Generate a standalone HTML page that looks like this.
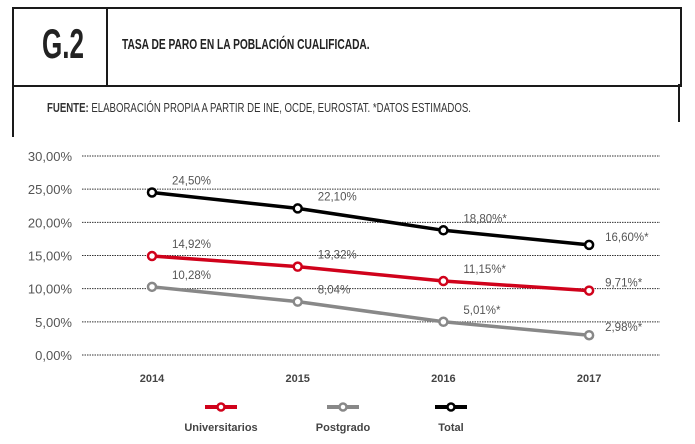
<!DOCTYPE html>
<html><head><meta charset="utf-8"><style>
body{margin:0;width:695px;height:444px;background:#fff;overflow:hidden;font-family:"Liberation Sans Narrow","Liberation Sans",sans-serif;}
.hdr{position:absolute;}
</style></head><body>
<div class="hdr" style="left:12px;top:7px;width:666px;height:76px;border:2px solid #1a1a1a;"></div>
<div class="hdr" style="left:106px;top:7px;width:2px;height:78px;background:#1a1a1a;"></div>
<div class="hdr" style="left:12px;top:84px;width:2px;height:53px;background:#1a1a1a;"></div>
<div class="hdr" style="left:678px;top:84px;width:2px;height:38px;background:#1a1a1a;"></div>
<div class="hdr" style="left:42px;top:20px;font-size:42px;font-weight:bold;color:#222;transform:scaleX(0.62);transform-origin:left;">G.2</div>
<div class="hdr" style="left:122px;top:36px;font-size:15px;font-weight:bold;color:#222;transform:scaleX(0.68);transform-origin:left;white-space:nowrap;">TASA DE PARO EN LA POBLACIÓN CUALIFICADA.</div>
<div class="hdr" style="left:47px;top:100px;font-size:13px;color:#333;transform:scaleX(0.74);transform-origin:left;white-space:nowrap;"><b>FUENTE:</b> ELABORACIÓN PROPIA A PARTIR DE INE, OCDE, EUROSTAT. *DATOS ESTIMADOS.</div>
<svg id="chart" width="695" height="444" style="position:absolute;left:0;top:0"></svg>
<script>
const years=["2014","2015","2016","2017"];
const yTicks=[0,5,10,15,20,25,30];
const yTickLabels=["0,00%","5,00%","10,00%","15,00%","20,00%","25,00%","30,00%"];
const universitarios=[14.92,13.32,11.15,9.71];
const postgrado=[10.28,8.04,5.01,2.98];
const total=[24.5,22.1,18.8,16.6];
const uniLabels=["14,92%","13,32%","11,15%*","9,71%*"];
const postLabels=["10,28%","8,04%","5,01%*","2,98%*"];
const totLabels=["24,50%","22,10%","18,80%*","16,60%*"];
const NS="http://www.w3.org/2000/svg";
const svg=document.getElementById('chart');
const x=i=>152+i*145.7;
const y=v=>355-v*6.633;
function mk(t,a,txt){const e=document.createElementNS(NS,t);for(const k in a)e.setAttribute(k,a[k]);if(txt!==undefined)e.textContent=txt;svg.appendChild(e);return e;}
yTicks.forEach((v,i)=>{
 const g=mk('line',{x1:82,x2:660,y1:y(v),y2:y(v),stroke:'#333','stroke-width':1,'stroke-dasharray':'1.5,1'});
 
 
 const t=mk('text',{x:72,y:y(v)+5,'text-anchor':'end','font-size':13,fill:'#555','font-family':'Liberation Sans, sans-serif'},yTickLabels[i]);
 
 
});
years.forEach((yr,i)=>{
 const t=mk('text',{x:x(i),y:382,'text-anchor':'middle','font-size':11,'font-weight':'bold',fill:'#444','font-family':'Liberation Sans, sans-serif'},yr);
 
 
});
function series(vals,labels,color,name){
 const p=mk('polyline',{points:vals.map((v,i)=>x(i)+','+y(v)).join(' '),fill:'none',stroke:color,'stroke-width':3.5});
 
 
 vals.forEach((v,i)=>{
  const c=mk('circle',{cx:x(i),cy:y(v),r:4,fill:'#fff',stroke:color,'stroke-width':2.5});
  
  
  const last=i===vals.length-1;
  const t=mk('text',{x:x(i)+(last?16:20),y:y(v)+(last?-4:-8),'font-size':11.5,fill:'#555','font-family':'Liberation Sans, sans-serif'},labels[i]);
  
  
 });
}
series(total,totLabels,'#000','total');
series(universitarios,uniLabels,'#d0021b','universitarios');
series(postgrado,postLabels,'#888','postgrado');
[["Universitarios",'#d0021b',221],["Postgrado",'#888',343],["Total",'#000',451]].forEach(([n,c,cx])=>{
 const l=mk('line',{x1:cx-16,x2:cx+16,y1:407,y2:407,stroke:c,'stroke-width':4});
 
 
 const ci=mk('circle',{cx:cx,cy:407,r:3.5,fill:'#fff',stroke:c,'stroke-width':2.5});
 
 
 const t=mk('text',{x:cx,y:431,'text-anchor':'middle','font-size':11,'font-weight':'bold',fill:'#444','font-family':'Liberation Sans, sans-serif'},n);
 
 
});
</script>
</body></html>
